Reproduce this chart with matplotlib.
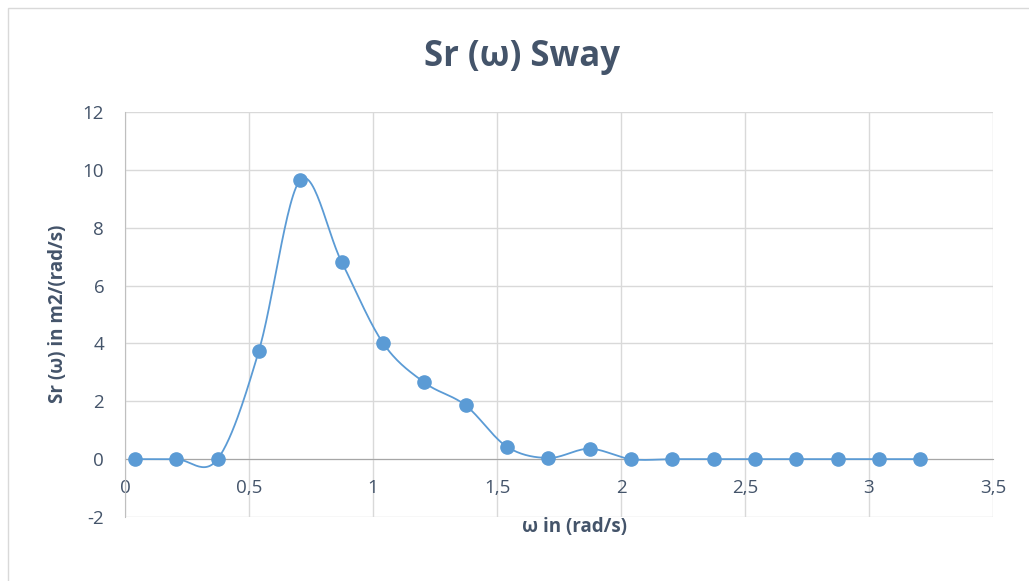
import matplotlib.pyplot as plt
import numpy as np
from matplotlib.patches import Rectangle

# data
omega = [0.04, 0.2067, 0.3733, 0.54, 0.7067, 0.8733, 1.04, 1.2067, 1.3733, 1.54,
         1.7067, 1.8733, 2.04, 2.2067, 2.3733, 2.54, 2.7067, 2.8733, 3.04, 3.2067]
sr = [0.0, 0.0, 0.0, 3.75, 9.65, 6.82, 4.02, 2.65, 1.86, 0.43,
      0.04, 0.36, 0.0, 0.0, 0.0, 0.0, 0.0, 0.0, 0.0, 0.0]
xticks = [0, 0.5, 1, 1.5, 2, 2.5, 3, 3.5]
xtick_labels = ['0', '0,5', '1', '1,5', '2', '2,5', '3', '3,5']
yticks = [-2, 0, 2, 4, 6, 8, 10, 12]

blue = '#5B9BD5'
txt = '#44546A'
grid = '#D9D9D9'


def smooth(x, y, n=30):
    # Excel-like smoothed line: cubic Bezier through the points
    x = np.asarray(x, float)
    y = np.asarray(y, float)
    P = np.column_stack([x, y])
    out = []
    for i in range(len(P) - 1):
        p0 = P[i - 1] if i > 0 else P[i]
        p1 = P[i]
        p2 = P[i + 1]
        p3 = P[i + 2] if i + 2 < len(P) else P[i + 1]
        c1 = p1 + (p2 - p0) / 6
        c2 = p2 - (p3 - p1) / 6
        t = np.linspace(0, 1, n)[:, None]
        seg = (1 - t) ** 3 * p1 + 3 * (1 - t) ** 2 * t * c1 + 3 * (1 - t) * t ** 2 * c2 + t ** 3 * p2
        out.append(seg)
    s = np.vstack(out)
    return s[:, 0], s[:, 1]


plt.rcParams['font.family'] = ['Open Sans', 'DejaVu Sans']
plt.rcParams['axes.unicode_minus'] = False
fig = plt.figure(figsize=(10.29, 5.81), dpi=100)
fig.patches.append(Rectangle((8 / 1029, -0.1), 1.2, 1 - 8 / 581 + 0.1, transform=fig.transFigure,
                             fill=False, edgecolor='#D9D9D9', linewidth=1))
ax = fig.add_axes([125 / 1029, 1 - 517 / 581, 868 / 1029, 405 / 581])

sx, sy = smooth(omega, sr)
ax.plot(sx, sy, color=blue, linewidth=1.3, zorder=3)
ax.plot(omega, sr, 'o', color=blue, markersize=9.5, markeredgecolor=blue, zorder=4)

ax.set_xlim(0, 3.5)
ax.set_ylim(-2, 12)
ax.set_xticks(xticks)
ax.set_xticklabels(xtick_labels)
ax.set_yticks(yticks)
ax.set_yticklabels([str(v) for v in yticks])
ax.grid(True, color=grid, linewidth=1)
ax.set_axisbelow(True)

for s in ['top', 'right']:
    ax.spines[s].set_visible(False)
ax.spines['bottom'].set_position(('data', 0))
ax.spines['bottom'].set_color('#A6A6A6')
ax.spines['left'].set_color('#BFBFBF')
ax.spines['bottom'].set_zorder(2)
ax.tick_params(length=0, labelsize=13.5, labelcolor=txt)
ax.tick_params(axis='y', pad=15)
ax.tick_params(axis='x', pad=14)

fig.text(0.507, 1 - 57 / 581, 'Sr (ω) Sway', fontsize=25, fontweight='bold', color=txt,
         ha='center', va='center')
ax.set_xlabel('ω in (rad/s)', fontsize=13.5, fontweight='bold', color=txt)
ax.xaxis.set_label_coords((575 - 125) / 868, (517 - 527) / 405)
ax.xaxis.label.set_va('center')
ax.set_ylabel('Sr (ω) in m2/(rad/s)', fontsize=13.5, fontweight='bold', color=txt)
ax.yaxis.set_label_coords((58 - 125) / 868, (517 - 314) / 405)
ax.yaxis.label.set_va('center')

fig.savefig('out.png', dpi=100)
